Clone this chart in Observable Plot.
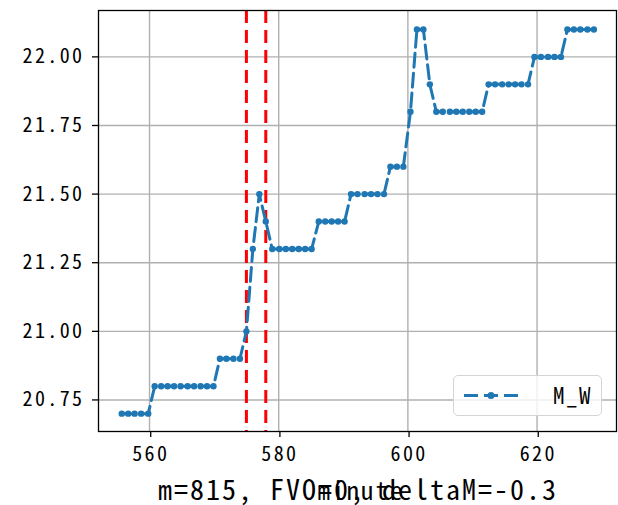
<!DOCTYPE html>
<html>
<head>
<meta charset="utf-8">
<script src="https://cdn.jsdelivr.net/npm/d3@7"></script>
<script src="https://cdn.jsdelivr.net/npm/@observablehq/plot@0.6"></script>
<style>
  html, body { margin: 0; padding: 0; background: #fff; }
  #wrap { position: relative; width: 618px; height: 505px; overflow: hidden; }
  #overlay { position: absolute; left: 0; top: 0; pointer-events: none; }
  #legend { position: absolute; left: 453px; top: 375px; width: 149px; height: 41px; border: 1.5px solid #d5d5d5; border-radius: 5px; background: rgba(255,255,255,0.8); box-sizing: border-box; }
</style>
</head>
<body>
<div id="wrap"></div>
<script>
// Data
const minutes = [555.7,556.7,557.7,558.7,559.8,560.8,561.8,562.8,563.8,564.8,565.9,566.9,567.9,568.9,569.9,570.9,571.9,573.0,574.0,575.0,576.0,577.0,578.0,579.0,580.1,581.1,582.1,583.1,584.1,585.1,586.2,587.2,588.2,589.2,590.2,591.2,592.2,593.3,594.3,595.3,596.3,597.3,598.3,599.3,600.4,601.4,602.4,603.4,604.4,605.4,606.5,607.5,608.5,609.5,610.5,611.5,612.5,613.5,614.6,615.6,616.6,617.6,618.6,619.6,620.6,621.7,622.7,623.7,624.7,625.7,626.7,627.8,628.8];
const M_W = [20.7,20.7,20.7,20.7,20.7,
  20.8,20.8,20.8,20.8,20.8,20.8,20.8,20.8,20.8,20.8,
  20.9,20.9,20.9,20.9,
  21.0,21.3,21.5,21.4,
  21.3,21.3,21.3,21.3,21.3,21.3,21.3,
  21.4,21.4,21.4,21.4,21.4,
  21.5,21.5,21.5,21.5,21.5,21.5,
  21.6,21.6,21.6,
  21.8,22.1,22.1,21.9,
  21.8,21.8,21.8,21.8,21.8,21.8,21.8,21.8,
  21.9,21.9,21.9,21.9,21.9,21.9,21.9,
  22.0,22.0,22.0,22.0,22.0,
  22.1,22.1,22.1,22.1,22.1];
const markers = [575, 578];
const xTicks = [560, 580, 600, 620];
const yTicks = [20.75, 21.00, 21.25, 21.50, 21.75, 22.00];
const seriesName = "M_W";
const xLabel = "minute";
const captionText = "m=815, FVO=0, deltaM=-0.3";

const data = minutes.map((m, i) => ({minute: m, value: M_W[i]}));
const font = '"Noto Sans Mono CJK SC", "DejaVu Sans Mono", monospace';
const blue = "#1f77b4";

const chart = Plot.plot({
  width: 618,
  height: 505,
  marginLeft: 98,
  marginRight: 2,
  marginTop: 10,
  marginBottom: 74,
  style: {fontFamily: font, background: "#fff", color: "#000", letterSpacing: "2.4px"},
  x: {domain: [552.1, 632.3]},
  y: {domain: [20.635, 22.169]},
  marks: [
    Plot.gridX(xTicks, {stroke: "#b0b0b0", strokeOpacity: 1, strokeWidth: 1.4}),
    Plot.gridY(yTicks, {stroke: "#b0b0b0", strokeOpacity: 1, strokeWidth: 1.4}),
    Plot.ruleX(markers, {stroke: "#ff0000", strokeWidth: 3, strokeDasharray: "13,7"}),
    Plot.line(data, {x: "minute", y: "value", stroke: blue, strokeWidth: 3, strokeDasharray: "14,6"}),
    Plot.dot(data, {x: "minute", y: "value", r: 3.2, fill: blue}),
    Plot.frame({stroke: "#000", strokeWidth: 1.3}),
    Plot.axisX(xTicks, {tickSize: 6, tickPadding: 9, fontSize: 20, label: null, tickFormat: d3.format("d"), stroke: "#000", strokeWidth: 1.3, dx: 1.2}),
    Plot.axisY(yTicks, {tickSize: 6, tickPadding: 8, fontSize: 20, label: null, tickFormat: d3.format(".2f"), stroke: "#000", strokeWidth: 1.3})
  ]
});

const wrap = document.getElementById("wrap");
wrap.appendChild(chart);

const leg = document.createElement("div");
leg.id = "legend";
wrap.appendChild(leg);

const ns = "http://www.w3.org/2000/svg";
const ov = d3.select(wrap).append("svg").attr("id", "overlay")
  .attr("width", 618).attr("height", 505)
  .style("font-family", font);

// legend sample and label
ov.append("line").attr("x1", 464).attr("x2", 520).attr("y1", 395.5).attr("y2", 395.5)
  .attr("stroke", blue).attr("stroke-width", 3).attr("stroke-dasharray", "14,6");
ov.append("circle").attr("cx", 491).attr("cy", 395.5).attr("r", 3.5).attr("fill", blue);
ov.append("text").attr("x", 553).attr("y", 404).attr("font-size", 23).attr("letter-spacing", "1.5px")
  .text(seriesName);

// x-axis label (overlapped by caption, as in the reference)
ov.append("text").attr("x", 361).attr("y", 500).attr("text-anchor", "middle")
  .attr("font-size", 25).attr("letter-spacing", "2px").text(xLabel);

// caption
ov.append("text").attr("x", 358).attr("y", 500).attr("text-anchor", "middle")
  .attr("font-size", 28).attr("letter-spacing", "2px").text(captionText);
</script>
</body>
</html>
